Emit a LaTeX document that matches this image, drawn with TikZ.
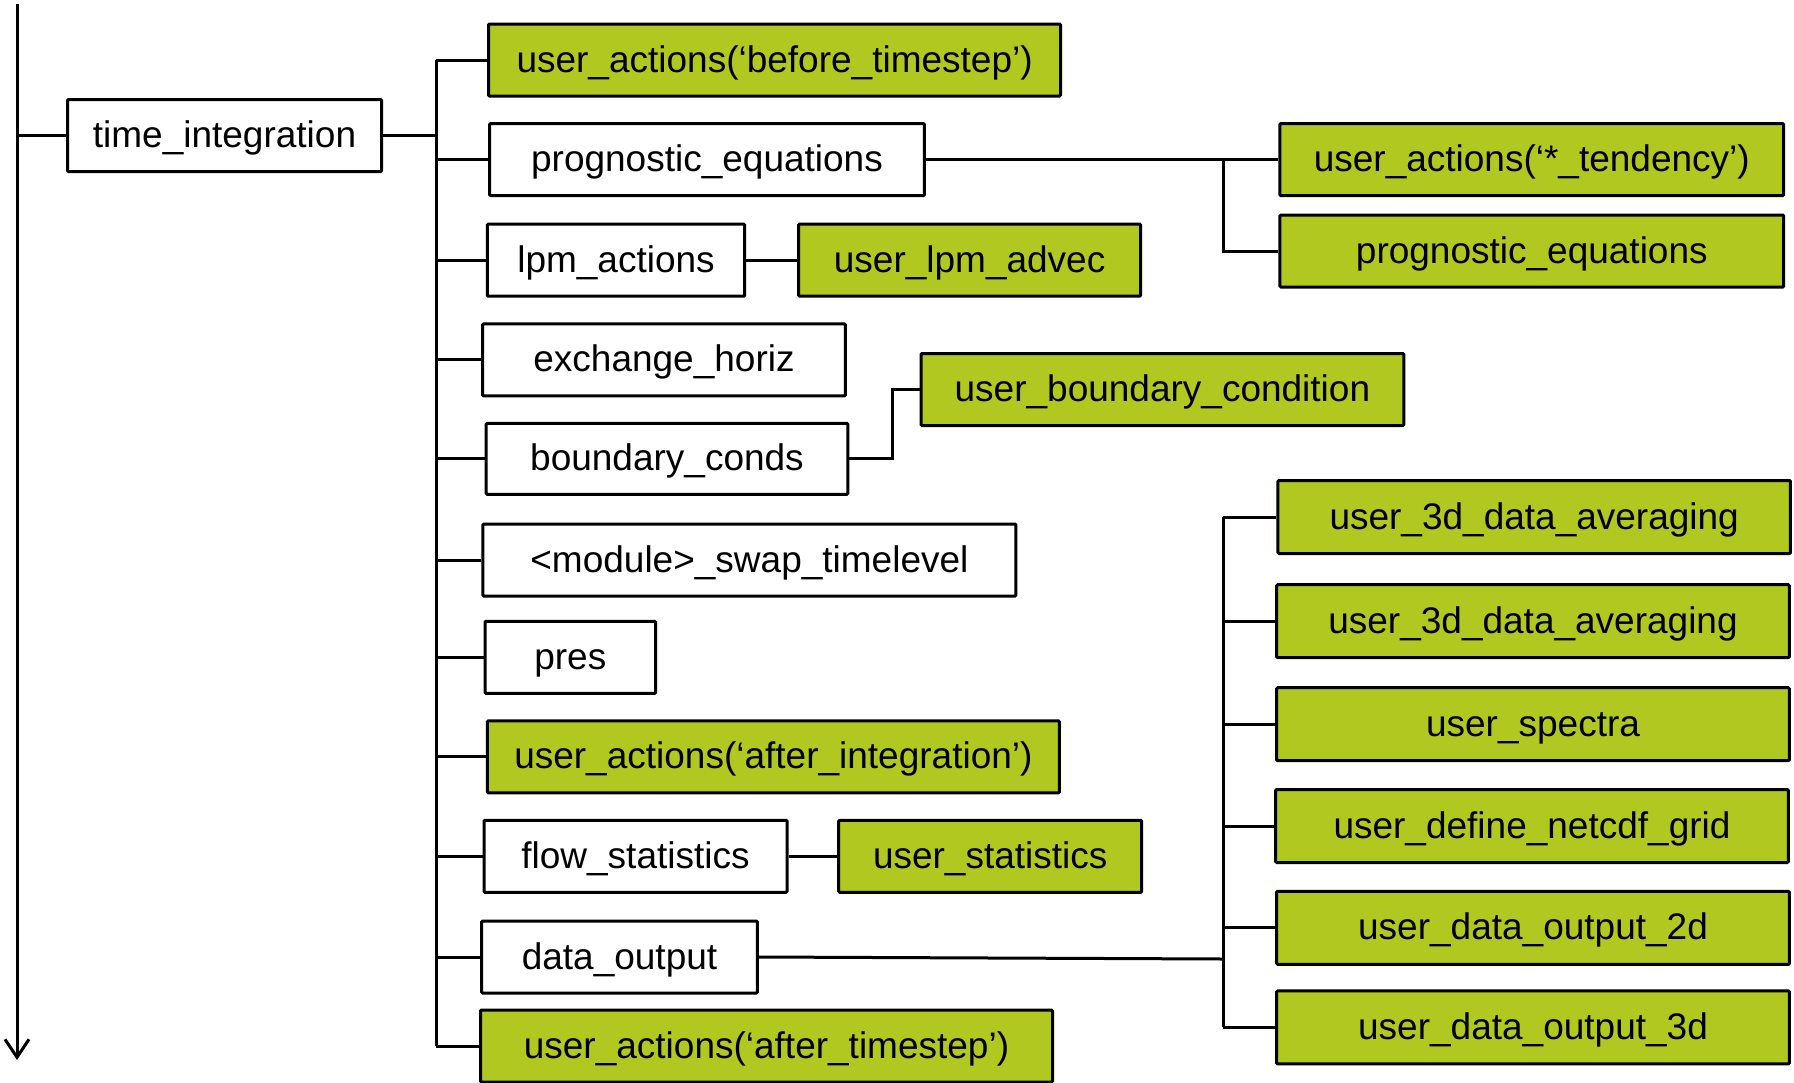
\documentclass[tikz,border=0pt]{standalone}
\usepackage{fontspec}
\setmainfont{Liberation Sans}
\usetikzlibrary{arrows.meta}
\definecolor{lime}{RGB}{176,200,31}
\begin{document}
\begin{tikzpicture}[x=1pt,y=-1pt,line width=3pt,
  box/.style={draw=black,line width=3pt,inner sep=0pt,minimum height=72pt,
    text height=28pt,text depth=4pt,
    font=\fontsize{37}{44}\selectfont,rounded corners=1pt},
  wbox/.style={box,fill=white},
  gbox/.style={box,fill=lime},
  conn/.style={draw=black,line width=3pt}]
\useasboundingbox (0,0) rectangle (1794,1082);

% main time axis
\coordinate (axT) at (17,4);
\coordinate (axB) at (17,1060);
\draw[conn,-{Straight Barb[length=18pt,width=24pt,line width=3pt]}] (axT) -- (axB);

\node[wbox,minimum width=314pt] (ti) at (224.5,135.5) {time\_integration};
\draw[conn] (axT |- ti.west) -- (ti.west);

% left column
\node[gbox,minimum width=572pt] (bts) at (774.6,60) {user\_actions(‘before\_timestep’)};
\node[wbox,minimum width=434.7pt] (progw) at (707,159.6) {prognostic\_equations};
\node[wbox,minimum width=257.4pt] (lpm) at (616,260.2) {lpm\_actions};
\node[gbox,minimum width=342pt] (ulpm) at (969.6,260.2) {user\_lpm\_advec};
\node[wbox,minimum width=362.7pt] (exch) at (664,359.8) {exchange\_horiz};
\node[wbox,minimum width=361.6pt,minimum height=71pt] (bc) at (667,458.8) {boundary\_conds};
\node[gbox,minimum width=482.8pt] (ubc) at (1162.4,389.5) {user\_boundary\_condition};
\node[wbox,minimum width=533pt] (swap) at (749.4,560) {<module>\_swap\_timelevel};
\node[wbox,minimum width=170.6pt] (pres) at (570.3,657.3) {pres};
\node[gbox,minimum width=572pt] (aint) at (773.4,756.8) {user\_actions(‘after\_integration’)};
\node[wbox,minimum width=303pt] (flow) at (635.5,856.3) {flow\_statistics};
\node[gbox,minimum width=303pt] (ustat) at (990.2,856.3) {user\_statistics};
\node[wbox,minimum width=275.7pt] (dout) at (619.5,957) {data\_output};
\node[gbox,minimum width=572pt] (ats) at (766.5,1046) {user\_actions(‘after\_timestep’)};

% right column
\node[gbox,minimum width=503.7pt] (tend) at (1531.8,159.6) {user\_actions(‘*\_tendency’)};
\node[gbox,minimum width=503.7pt] (progg) at (1531.8,251) {prognostic\_equations};
\node[gbox,minimum width=512.5pt,minimum height=73pt] (avg1) at (1534.2,517) {user\_3d\_data\_averaging};
\node[gbox,minimum width=512.6pt,minimum height=73pt] (avg2) at (1533,621.2) {user\_3d\_data\_averaging};
\node[gbox,minimum width=512.6pt,minimum height=73pt] (spec) at (1533,724.2) {user\_spectra};
\node[gbox,minimum width=512.6pt,minimum height=73pt] (ncdf) at (1532,826) {user\_define\_netcdf\_grid};
\node[gbox,minimum width=512.6pt,minimum height=73pt] (o2d) at (1533,927.8) {user\_data\_output\_2d};
\node[gbox,minimum width=512.6pt,minimum height=73pt] (o3d) at (1533,1027.4) {user\_data\_output\_3d};

% main bus
\coordinate (busT) at (436,60);
\coordinate (busB) at (436,1046);
\draw[conn] (ti.east) -- (busT |- ti.east);
\draw[conn] (busT) -- (busB);
\foreach \n in {bts,progw,lpm,exch,bc,swap,pres,aint,flow,dout,ats}
  \draw[conn] (busT |- \n.west) -- (\n.west);

% second level
\coordinate (pj) at (1223,159.6);
\draw[conn] (progw.east) -- (tend.west);
\draw[conn] (pj) |- (progg.west);
\draw[conn] (lpm.east) -- (ulpm.west);
\coordinate (bj) at (892.4,389.5);
\draw[conn] (bc.east) -| (bj) -- (ubc.west);
\draw[conn] (flow.east) -- (ustat.west);

% data output bus
\coordinate (rbT) at (1223,517);
\coordinate (rbB) at (1223,1027.4);
\draw[conn] (rbT) -- (rbB);
\draw[conn] (dout.east) -- (1223,959);
\foreach \n in {avg1,avg2,spec,ncdf,o2d,o3d}
  \draw[conn] (rbT |- \n.west) -- (\n.west);
\end{tikzpicture}
\end{document}
